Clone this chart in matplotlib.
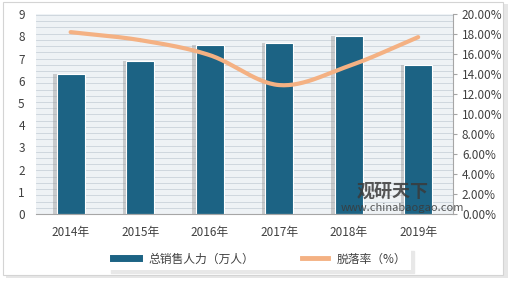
import numpy as np
import matplotlib.pyplot as plt
from matplotlib.patches import Rectangle
from matplotlib.lines import Line2D

plt.rcParams['font.family'] = ['Noto Sans CJK SC', 'DejaVu Sans']

years = ['2014年', '2015年', '2016年', '2017年', '2018年', '2019年']
sales_force = [6.3, 6.9, 7.6, 7.7, 8.0, 6.7]
dropout_rate = [18.2, 17.4, 15.9, 12.9, 14.8, 17.7]

bar_color = '#1c6384'
line_color = '#f4b183'


def smooth(xs, ys, n=30):
    # catmull-rom path through the points, like excel's smoothed line
    xs = np.asarray(xs, float)
    ys = np.asarray(ys, float)
    px = np.concatenate([[2 * xs[0] - xs[1]], xs, [2 * xs[-1] - xs[-2]]])
    py = np.concatenate([[2 * ys[0] - ys[1]], ys, [2 * ys[-1] - ys[-2]]])
    ox, oy = [], []
    for i in range(1, len(px) - 2):
        t = np.linspace(0, 1, n)
        for arr, out in ((px, ox), (py, oy)):
            p0, p1, p2, p3 = arr[i - 1], arr[i], arr[i + 1], arr[i + 2]
            out.extend(0.5 * (2 * p1 + (-p0 + p2) * t + (2 * p0 - 5 * p1 + 4 * p2 - p3) * t ** 2
                              + (-p0 + 3 * p1 - 3 * p2 + p3) * t ** 3))
    return np.array(ox), np.array(oy)


fig = plt.figure(figsize=(5.2, 2.83), dpi=100)
fig.patch.set_facecolor('white')
# outer frame with soft shadow
fig.patches.append(Rectangle((0.012, 0.018), 0.965, 0.968, transform=fig.transFigure,
                             facecolor='#e6e6e6', edgecolor='none', zorder=-2))
fig.patches.append(Rectangle((0.006, 0.03), 0.962, 0.962, transform=fig.transFigure,
                             facecolor='white', edgecolor='#d4d4d4', lw=0.8, zorder=-1))

ax = fig.add_axes([0.069, 0.244, 0.802, 0.706])
x = np.arange(len(years))
ax.set_xlim(-0.5, len(years) - 0.5)
ax.set_ylim(0, 9)

# striped plot background
ax.set_facecolor('#eef2f5')
for yy in np.arange(0, 9, 0.28):
    ax.axhline(yy, color='#c9d2da', lw=0.6, zorder=0)

# bar shadows then bars
ax.bar(x - 0.04, sales_force, width=0.42, color='#9a9a9a', alpha=0.45, zorder=1)
ax.bar(x, sales_force, width=0.4, color=bar_color, edgecolor='white', lw=0.8, zorder=2)

ax.set_xticks(x)
ax.set_xticklabels(years, fontsize=8.5, color='#404040')
ax.set_yticks(range(0, 10))
ax.tick_params(axis='y', labelsize=8.5, colors='#404040', length=0, pad=8)
ax.tick_params(axis='x', length=0, pad=9)
for s in ['top', 'right', 'left']:
    ax.spines[s].set_visible(False)
ax.spines['bottom'].set_color('#a6a6a6')

ax2 = ax.twinx()
ax2.set_ylim(0, 20)
ax2.set_yticks(np.arange(0, 21, 2))
ax2.set_yticklabels([f'{v:.2f}%' for v in np.arange(0, 21, 2)])
ax2.tick_params(axis='y', labelsize=8.5, colors='#404040', length=3, color='#a6a6a6')
for s in ['top', 'left', 'bottom']:
    ax2.spines[s].set_visible(False)
ax2.spines['right'].set_color('#a6a6a6')
sx, sy = smooth(x, dropout_rate)
ax2.plot(sx, sy, color=line_color, lw=3, solid_capstyle='round', zorder=3)

# watermark
fig.text(0.685, 0.305, '观研天下', fontsize=13, fontweight='bold', color='#3a3a3a', alpha=0.85)
fig.text(0.655, 0.255, 'www.chinabaogao.com', fontsize=8, color='#3a3a3a', alpha=0.85)

handles = [Line2D([], [], color=bar_color, lw=5),
           Line2D([], [], color=line_color, lw=3.5)]
leg = fig.legend(handles, ['总销售人力（万人）', '脱落率（%）'], loc='center', ncol=2,
                 bbox_to_anchor=(0.5, 0.085), fontsize=8.5, frameon=True, fancybox=False,
                 edgecolor='none', handlelength=2.2, columnspacing=4, labelcolor='#404040',
                 shadow={'color': '#e8e8e8', 'alpha': 1}, framealpha=1)

fig.savefig('out.png', dpi=100)
